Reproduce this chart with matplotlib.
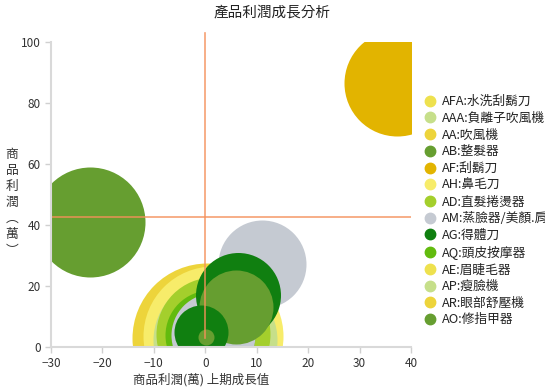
import matplotlib.pyplot as plt
from matplotlib.lines import Line2D

plt.rcParams['font.family'] = ['Noto Sans CJK TC', 'DejaVu Sans']

# series (legend order) and their colours
series = ['AFA:水洗刮鬍刀', 'AAA:負離子吹風機', 'AA:吹風機', 'AB:整髮器', 'AF:刮鬍刀',
          'AH:鼻毛刀', 'AD:直髮捲燙器', 'AM:蒸臉器/美顏.肩', 'AG:得體刀', 'AQ:頭皮按摩器',
          'AE:眉睫毛器', 'AP:瘦臉機', 'AR:眼部舒壓機', 'AO:修指甲器']
colors = ['#EEE14E', '#C6DF8A', '#EDD43B', '#669E30', '#E2B400',
          '#F7EC6A', '#A4CF2C', '#C5CAD2', '#107F10', '#62BB0E',
          '#EEE14E', '#C6DF8A', '#EDD43B', '#669E30']

# bubbles (drawn in this order): series, growth, profit, bubble size
pt_series = ['AA', 'AH', 'AAA', 'AD', 'AQ', 'AM', 'AM', 'AG', 'AO', 'AG', 'AB', 'AB', 'AF']
pt_x = [0.4, 1.4, 1.9, 1.4, 1.0, 1.4, 11.1, 6.3, 6.0, -0.8, 0.2, -22.4, 37.2]
pt_y = [3.0, 3.6, 2.3, 4.3, 3.9, 3.9, 27.2, 16.9, 13.1, 4.9, 3.3, 41.1, 86.6]
pt_size = [75, 70, 62, 57, 45, 42, 44, 42.5, 37, 27, 8, 55, 53]

avg_x = 0.0
avg_y = 42.6

fig = plt.figure(figsize=(5.45, 3.92), dpi=100)
ax = fig.add_axes([0.0936, 0.1148, 0.6606, 0.7781])

code_color = {s.split(':')[0]: c for s, c in zip(series, colors)}
for s, x, y, r in zip(pt_series, pt_x, pt_y, pt_size):
    ax.scatter(x, y, s=(2 * r * 0.72) ** 2, color=code_color[s], linewidths=0)

# average lines
ax.plot([avg_x, avg_x], [3, 103], color='#F5905A', lw=1.2, alpha=0.85, clip_on=False)
ax.plot([-30, 40], [avg_y, avg_y], color='#F5905A', lw=1.2, alpha=0.85)

ax.set_xlim(-30, 40)
ax.set_ylim(0, 100)
ax.set_xticks(range(-30, 41, 10))
ax.set_yticks(range(0, 101, 20))
for side in ['top', 'right']:
    ax.spines[side].set_visible(False)
for side in ['left', 'bottom']:
    ax.spines[side].set_color('#D9D9D9')
    ax.spines[side].set_linewidth(1.5)
ax.tick_params(colors='#D0D0D0', labelcolor='#333333', labelsize=8.5, length=4, width=1)

fig.text(0.5, 0.969, '產品利潤成長分析', ha='center', va='center', fontsize=10.5, color='#222222')
fig.text(0.369, 0.03, '商品利潤(萬) 上期成長值', ha='center', va='center', fontsize=9, color='#333333')
fig.text(0.022, 0.483, '商\n品\n利\n潤\n︵\n萬\n︶', ha='center', va='center', fontsize=9.2,
         color='#333333', linespacing=1.3)

handles = [Line2D([], [], marker='o', ls='', color=c, markersize=7.5) for c in colors]
fig.legend(handles, series, loc='upper left', bbox_to_anchor=(0.775, 0.757), frameon=False,
           fontsize=9.2, labelspacing=0.29, handletextpad=0.3, handlelength=1.2,
           borderpad=0, borderaxespad=0, labelcolor='#222222')

fig.savefig('out.png', dpi=100)
